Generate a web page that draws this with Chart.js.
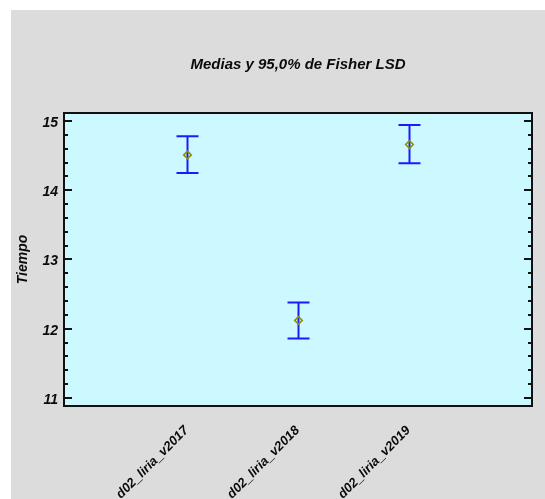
<!DOCTYPE html>
<html>
<head>
<meta charset="utf-8">
<script src="https://cdn.jsdelivr.net/npm/chart.js@4/dist/chart.umd.min.js"></script>
<style>
  html, body { margin: 0; padding: 0; background: #ffffff; }
  #wrap { position: absolute; left: 0; top: 0; width: 545px; height: 499px; }
</style>
</head>
<body>
<div id="wrap"><canvas id="c" width="545" height="499"></canvas></div>
<script>
// Groups, their means and the Fisher LSD interval bounds
const categories = ['d02_liria_v2017', 'd02_liria_v2018', 'd02_liria_v2019'];
const means = [14.51, 12.12, 14.66];
const lower = [14.25, 11.86, 14.39];
const upper = [14.78, 12.38, 14.94];
const yTicks = [11, 12, 13, 14, 15];

const titleText = 'Medias y 95,0% de Fisher LSD';
const yTitle = 'Tiempo';
const FONT = '"Liberation Sans", Arial, sans-serif';

const points = means.map((m, i) => ({ x: i + 1, y: m }));

// Frame, ticks, labels and interval bars drawn around / on the plot area
const decor = {
  id: 'decor',
  beforeDraw(chart) {
    const ctx = chart.ctx;
    const a = chart.chartArea;
    ctx.save();
    ctx.fillStyle = '#ffffff';
    ctx.fillRect(0, 0, chart.width, chart.height);
    ctx.fillStyle = '#dcdcdc';
    ctx.fillRect(11, 10, chart.width - 11, chart.height - 10);
    ctx.fillStyle = '#ccf8ff';
    ctx.fillRect(a.left, a.top, a.right - a.left, a.bottom - a.top);
    ctx.restore();
  },
  afterDatasetsDraw(chart) {
    const ctx = chart.ctx;
    const a = chart.chartArea;
    const xs = chart.scales.x, ys = chart.scales.y;
    ctx.save();

    // interval bars
    ctx.strokeStyle = '#1a1aff';
    ctx.lineWidth = 2;
    for (let i = 0; i < means.length; i++) {
      const px = Math.round(xs.getPixelForValue(i + 1)) + 0.5;
      const pl = ys.getPixelForValue(lower[i]);
      const pu = ys.getPixelForValue(upper[i]);
      ctx.beginPath();
      ctx.moveTo(px, pu); ctx.lineTo(px, pl);
      ctx.moveTo(px - 11, pu); ctx.lineTo(px + 11, pu);
      ctx.moveTo(px - 11, pl); ctx.lineTo(px + 11, pl);
      ctx.stroke();
    }
    // mean markers on top of the bars
    ctx.strokeStyle = '#8f8f00';
    ctx.lineWidth = 1.6;
    for (let i = 0; i < means.length; i++) {
      const px = Math.round(xs.getPixelForValue(i + 1)) + 0.5;
      const py = ys.getPixelForValue(means[i]);
      ctx.beginPath();
      ctx.moveTo(px, py - 3.8); ctx.lineTo(px + 3.8, py);
      ctx.lineTo(px, py + 3.8); ctx.lineTo(px - 3.8, py);
      ctx.closePath();
      ctx.stroke();
    }

    // frame
    ctx.strokeStyle = '#111111';
    ctx.lineWidth = 2;
    ctx.strokeRect(a.left, a.top, a.right - a.left, a.bottom - a.top);

    // y ticks (major + minor), inward on both sides
    ctx.lineWidth = 2;
    for (let v = 11; v <= 15.0001; v += 0.2) {
      const major = Math.abs(v - Math.round(v)) < 1e-6;
      const len = major ? 8 : 4;
      const py = Math.round(ys.getPixelForValue(v));
      ctx.beginPath();
      ctx.moveTo(a.left, py); ctx.lineTo(a.left + len, py);
      ctx.moveTo(a.right, py); ctx.lineTo(a.right - len, py);
      ctx.stroke();
    }

    // y tick labels
    ctx.fillStyle = '#0a0a0a';
    ctx.font = 'bold italic 14px ' + FONT;
    ctx.textAlign = 'right';
    ctx.textBaseline = 'middle';
    yTicks.forEach(v => {
      ctx.fillText(String(v), a.left - 6, ys.getPixelForValue(v) + 2);
    });

    // y title
    ctx.save();
    ctx.translate(27, (a.top + a.bottom) / 2);
    ctx.rotate(-Math.PI / 2);
    ctx.textAlign = 'center';
    ctx.textBaseline = 'alphabetic';
    ctx.font = 'bold italic 14px ' + FONT;
    ctx.fillText(yTitle, 0, 0);
    ctx.restore();

    // x category labels, rotated 45 degrees
    ctx.font = 'bold italic 13px ' + FONT;
    categories.forEach((c, i) => {
      const px = xs.getPixelForValue(i + 1);
      ctx.save();
      ctx.translate(px + 2, a.bottom + 25);
      ctx.rotate(-Math.PI / 4);
      ctx.textAlign = 'right';
      ctx.textBaseline = 'alphabetic';
      ctx.fillText(c, 0, 0);
      ctx.restore();
    });

    // title
    ctx.font = 'bold italic 15px ' + FONT;
    ctx.textAlign = 'center';
    ctx.textBaseline = 'middle';
    ctx.fillText(titleText, (a.left + a.right) / 2, 65);
    ctx.restore();
  }
};

new Chart(document.getElementById('c'), {
  type: 'scatter',
  data: {
    datasets: [{
      data: points,
      pointRadius: 0,
      pointHoverRadius: 0,
      showLine: false
    }]
  },
  options: {
    responsive: false,
    animation: false,
    layout: { padding: { left: 64, top: 113, right: 13, bottom: 93 } },
    plugins: { legend: { display: false }, tooltip: { enabled: false }, title: { display: false } },
    scales: {
      x: { type: 'linear', min: -0.11, max: 4.11, display: false },
      y: { type: 'linear', min: 10.884, max: 15.115, display: false }
    }
  },
  plugins: [decor]
});
</script>
</body>
</html>
